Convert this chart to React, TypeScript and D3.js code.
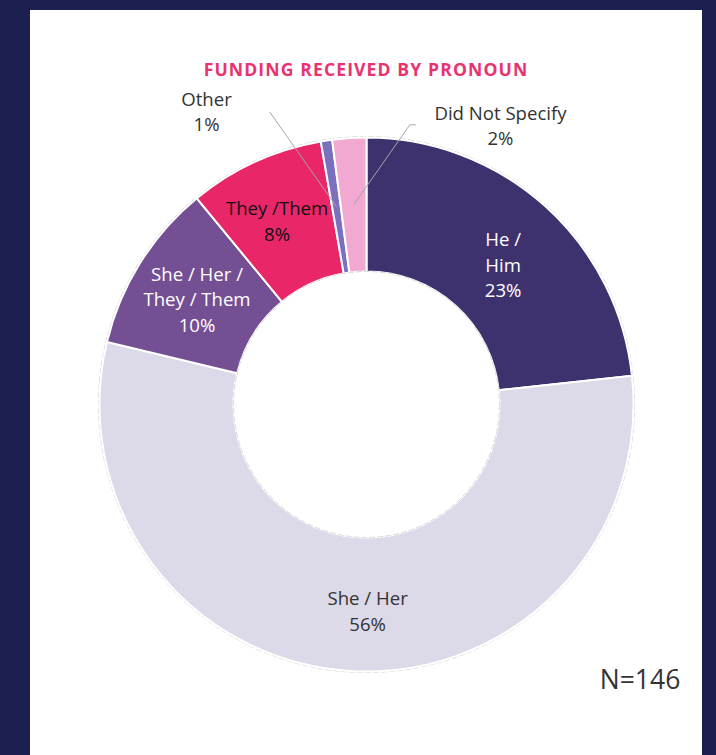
import React from "react";
import * as d3 from "d3";

const categories = ["He / Him", "She / Her", "She / Her / They / Them", "They /Them", "Other", "Did Not Specify"];
const counts = [34, 81, 15, 12, 1, 3];
const pctLabels = ["23%", "56%", "10%", "8%", "1%", "2%"];
const colors = ["#3d326e", "#dcd9e8", "#754f93", "#e92768", "#7b70bd", "#f1a9d2"];
const title = "FUNDING RECEIVED BY PRONOUN";
const nLabel = "N=146";

const W = 716, H = 755;
const cx = 366.5, cy = 404.5, R = 267, r0 = 133;

export default function App() {
  const pie = d3.pie<number>().sort(null).value((d) => d);
  const arcs = pie(counts);
  const arc = d3.arc<d3.PieArcDatum<number>>().innerRadius(r0).outerRadius(R);
  const font = "'Open Sans', sans-serif";
  const fs = 18.6;

  const polar = (a: number, rad: number): [number, number] => [rad * Math.sin(a), -rad * Math.cos(a)];

  const inside: Record<number, { lines: string[]; color: string; dx: number; dy: number }> = {
    0: { lines: ["He /", "Him", pctLabels[0]], color: "#ffffff", dx: 3, dy: 10 },
    1: { lines: [categories[1], pctLabels[1]], color: "#333333", dx: 14, dy: 8 },
    2: { lines: ["She / Her /", "They / Them", pctLabels[2]], color: "#ffffff", dx: 0, dy: 2 },
    3: { lines: [categories[3], pctLabels[3]], color: "#111111", dx: -6, dy: -1 },
  };

  const lh = 25.5;

  return (
    <svg width={W} height={H} style={{ position: "absolute", left: 0, top: 0 }}>
      <rect x={0} y={0} width={W} height={H} fill="#1a1f50" />
      <rect x={30} y={10} width={672} height={H - 10} fill="#ffffff" />
      <text x={366} y={76} textAnchor="middle" fontFamily={font} fontWeight={700} fontSize={17.6}
        letterSpacing={1.1} fill="#e8336f">{title}</text>
      <g transform={`translate(${cx},${cy})`}>
        <circle r={R + 1} fill="none" stroke="#d4d4d4" strokeWidth={1} strokeDasharray="6 2" />
        {arcs.map((a, i) => (
          <path key={i} d={arc(a) || ""} fill={colors[i]} stroke="#ffffff" strokeWidth={2} />
        ))}
        <circle r={r0} fill="#ffffff" stroke="#d8d8d8" strokeWidth={1} strokeDasharray="6 2" />
        {arcs.map((a, i) => {
          const cfg = inside[i];
          if (!cfg) return null;
          const mid = (a.startAngle + a.endAngle) / 2;
          const [x, y] = polar(mid, 200);
          const n = cfg.lines.length;
          return (
            <text key={"l" + i} x={x + cfg.dx} y={y + cfg.dy - ((n - 1) * lh) / 2 + 6}
              textAnchor="middle" fontFamily={font} fontSize={fs} fill={cfg.color}>
              {cfg.lines.map((t, k) => (
                <tspan key={k} x={x + cfg.dx} dy={k === 0 ? 0 : lh}>{t}</tspan>
              ))}
            </text>
          );
        })}
        {(() => {
          const a = arcs[4];
          const mid = (a.startAngle + a.endAngle) / 2;
          const [x1, y1] = polar(mid, 200);
          const [x2, y2] = polar((341.7 * Math.PI) / 180, 308);
          return (
            <g>
              <line x1={x1} y1={y1} x2={x2} y2={y2} stroke="#a6a6a6" strokeWidth={1} />
              <text x={-160} y={-299} textAnchor="middle" fontFamily={font} fontSize={fs} fill="#333">
                <tspan x={-160}>{categories[4]}</tspan>
                <tspan x={-160} dy={lh}>{pctLabels[4]}</tspan>
              </text>
            </g>
          );
        })()}
        {(() => {
          const a = arcs[5];
          const mid = (a.startAngle + a.endAngle) / 2;
          const [x1, y1] = polar(mid, 200);
          const [x2, y2] = polar((8.8 * Math.PI) / 180, 283);
          return (
            <g>
              <polyline points={`${x1},${y1} ${x2},${y2} ${x2 + 6},${y2}`} fill="none" stroke="#a6a6a6" strokeWidth={1} />
              <text x={134} y={-285} textAnchor="middle" fontFamily={font} fontSize={fs} fill="#333">
                <tspan x={134}>{categories[5]}</tspan>
                <tspan x={134} dy={lh}>{pctLabels[5]}</tspan>
              </text>
            </g>
          );
        })()}
      </g>
      <text x={640} y={689} textAnchor="middle" fontFamily={font} fontSize={26.5} fill="#333333">{nLabel}</text>
    </svg>
  );
}
